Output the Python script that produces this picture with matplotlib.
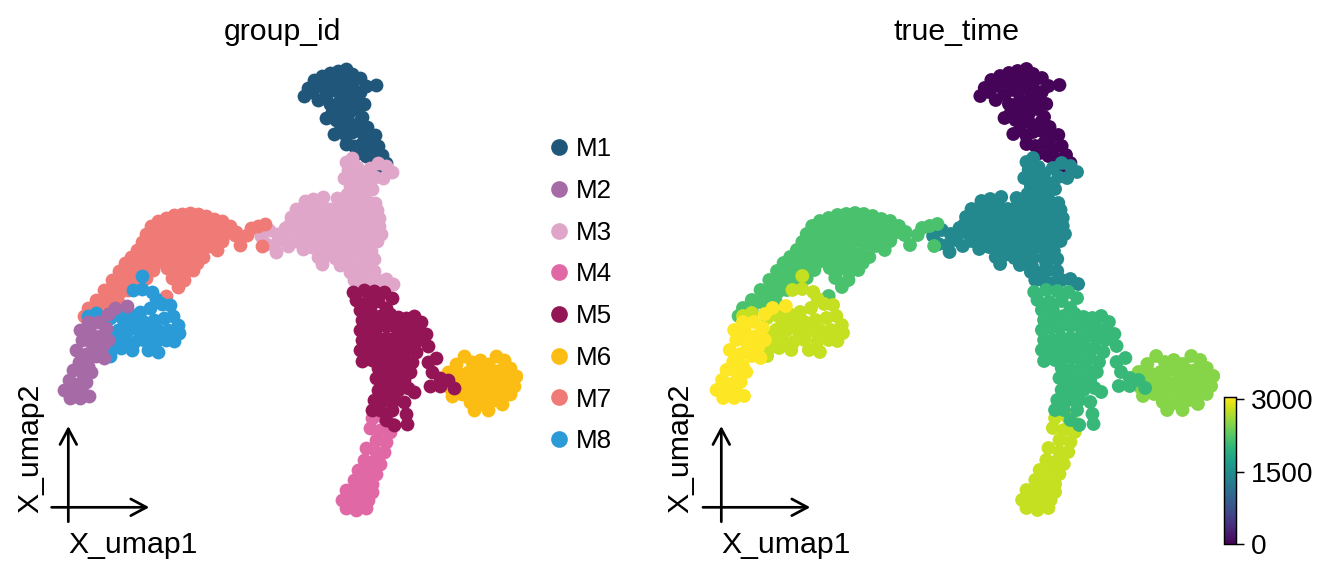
import numpy as np
import matplotlib.pyplot as plt
from matplotlib.lines import Line2D

plt.rcParams['font.family'] = ['Liberation Sans', 'DejaVu Sans']

# umap coordinates per group
M1 = [(30.8,-8.8),(30.4,-9.6),(31.4,-8.0),(32.2,-7.6),(33.0,-7.3),(33.8,-7.1),(34.6,-6.9),(35.2,-7.4),(36.0,-7.8),(36.6,-8.6),(37.6,-8.5),
      (31.2,-9.2),(32.0,-8.6),(32.8,-8.2),(33.6,-7.9),(34.4,-7.8),(35.2,-8.3),(36.0,-9.2),
      (31.8,-10.0),(32.6,-9.5),(33.4,-9.0),(34.2,-8.8),(35.0,-9.3),(35.7,-9.9),
      (33.0,-10.4),(34.0,-10.0),(34.8,-10.4),(36.4,-10.4),
      (33.2,-11.2),(34.0,-11.0),(34.8,-11.4),(35.6,-10.9),(36.2,-11.7),(32.6,-11.8),
      (33.6,-12.0),(34.4,-12.2),(35.2,-12.5),(36.0,-12.1),(36.7,-12.7),
      (34.0,-13.0),(33.4,-13.4),(34.6,-13.6),(35.2,-13.2),(36.0,-13.1),(36.8,-13.8),(37.5,-13.5),
      (34.6,-14.4),(35.4,-14.6),(36.2,-14.3),(37.0,-14.9),(37.8,-14.6),
      (35.8,-15.3),(36.6,-15.6),(37.4,-15.9),(38.2,-15.5),(38.6,-16.3),(38.0,-16.6)]

M2 = [(11.5,-30.8),(12.7,-30.6),(10.8,-31.4),
      (8.8,-32.2),(9.8,-32.2),(10.6,-32.8),(8.0,-33.0),(9.0,-33.2),(10.0,-33.6),(10.8,-34.0),
      (8.2,-34.0),(9.2,-34.4),(10.2,-34.7),(7.6,-35.0),(8.6,-35.4),(9.6,-35.6),(10.4,-35.8),
      (7.9,-36.2),(8.8,-36.6),(7.3,-37.0),(8.3,-37.4),(9.1,-37.2),(6.9,-38.0),(7.7,-38.4),(8.6,-38.2),
      (6.4,-39.0),(7.2,-39.2),(8.2,-39.2),(7.0,-39.8),(8.0,-39.8),(8.9,-39.6)]

M3 = [(34.6,-16.2),(35.2,-15.8),(34.8,-17.0),(35.7,-16.7),(34.4,-17.8),(35.3,-17.8),(36.2,-17.4),(37.0,-16.8),
      (37.8,-16.3),(38.6,-16.6),(39.2,-17.2),(37.5,-17.7),(38.3,-17.8),(35.0,-18.6),(35.8,-18.6),(36.6,-18.3),
      (37.2,-18.9),(34.7,-19.4),(35.6,-19.4),(36.4,-19.5),
      (30.5,-20.1),(31.3,-19.9),(32.3,-19.7),(33.7,-19.8),(34.7,-20.0),(35.7,-19.9),(36.7,-20.1),(37.5,-20.3),
      (29.6,-20.9),(30.4,-20.7),(31.2,-20.8),(32.0,-20.6),(32.9,-20.9),(33.7,-20.7),(34.5,-20.8),(35.3,-20.7),
      (36.1,-20.9),(36.9,-20.8),(37.7,-21.0),
      (29.1,-21.7),(29.9,-21.5),(30.8,-21.7),(31.6,-21.5),(32.4,-21.7),(33.2,-21.5),(34.0,-21.7),(34.8,-21.5),
      (35.6,-21.7),(36.4,-21.5),(37.2,-21.7),(37.9,-21.8),
      (28.9,-22.5),(29.7,-22.3),(30.6,-22.5),(31.4,-22.3),(32.2,-22.5),(33.0,-22.3),(33.8,-22.5),(34.6,-22.3),
      (35.4,-22.5),(36.2,-22.3),(37.0,-22.5),(37.9,-22.6),
      (29.2,-23.3),(30.0,-23.1),(30.8,-23.3),(31.6,-23.1),(32.4,-23.3),(33.2,-23.1),(34.0,-23.3),(34.8,-23.1),
      (35.6,-23.3),(36.4,-23.1),(37.2,-23.3),(38.1,-23.4),
      (29.6,-24.1),(30.4,-23.9),(31.2,-24.1),(32.0,-23.9),(32.8,-24.1),(33.6,-23.9),(34.4,-24.1),(35.2,-23.9),
      (36.0,-24.1),(36.8,-23.9),(37.7,-24.1),
      (30.3,-24.9),(31.2,-24.7),(32.0,-24.9),(32.8,-24.7),(33.6,-24.9),(34.4,-24.7),(35.2,-24.9),(36.1,-24.8),
      (37.1,-25.1),
      (31.8,-25.7),(32.6,-25.5),(33.5,-25.8),(34.4,-25.6),(35.2,-25.8),(36.2,-25.8),(37.4,-25.9),
      (32.2,-26.4),(34.0,-26.5),(35.1,-26.6),(36.4,-26.4),
      (26.1,-23.6),(26.9,-23.0),(27.7,-23.4),(28.5,-22.8),(26.6,-24.4),(27.4,-24.5),(28.2,-24.0),(27.6,-25.2),
      (28.8,-24.6),
      (35.0,-27.2),(35.8,-27.3),(36.6,-27.0),(37.4,-27.1),(35.4,-28.0),(36.2,-28.1),(37.0,-28.3),(37.8,-28.0),
      (38.6,-27.9),(39.3,-28.4)]

M4 = [(37.2,-41.8),(38.4,-41.8),(39.2,-42.4),(37.0,-42.8),(38.0,-43.0),(39.0,-43.2),(37.6,-44.0),(38.6,-44.2),
      (36.6,-44.8),(37.6,-45.2),(38.4,-45.2),(36.4,-46.0),(37.2,-46.2),(38.0,-46.4),
      (35.8,-47.0),(36.8,-47.2),(37.6,-47.4),(35.4,-48.0),(36.2,-48.2),(37.2,-48.4),
      (34.6,-49.0),(35.4,-49.2),(36.4,-49.2),(37.2,-49.2),(34.2,-50.0),(35.0,-50.0),(36.0,-50.2),(36.8,-50.0),
      (34.6,-50.8),(35.6,-51.0),(36.6,-50.8)]

M5 = [(35.3,-29.2),(36.4,-29.0),(37.4,-29.1),(38.4,-29.2),(39.2,-29.8),(35.6,-30.0),(36.7,-30.2),(37.8,-30.1),
      (36.0,-31.0),(37.0,-31.0),(38.6,-30.8),
      (36.2,-32.0),(37.2,-31.8),(38.0,-31.6),(39.0,-31.4),(39.8,-31.7),(40.6,-31.8),(41.4,-31.6),(42.1,-32.2),
      (36.0,-33.0),(36.8,-32.8),(37.6,-32.8),(38.6,-32.6),(39.4,-32.6),(40.2,-32.6),(41.0,-32.8),(41.8,-33.0),
      (42.6,-33.4),
      (36.2,-34.0),(37.0,-34.0),(37.8,-33.8),(38.6,-33.8),(39.4,-33.8),(40.2,-33.6),(41.0,-33.8),(41.8,-34.0),
      (42.8,-34.6),
      (36.0,-35.0),(36.8,-35.0),(37.6,-34.8),(38.4,-34.8),(39.2,-34.8),(40.0,-34.8),(40.8,-34.8),(41.6,-35.2),
      (43.6,-35.8),
      (36.2,-36.1),(37.2,-36.0),(38.0,-35.8),(38.8,-35.8),(39.6,-36.0),(40.4,-35.8),(41.2,-36.2),(42.8,-36.2),
      (37.8,-36.8),(38.6,-37.0),(39.4,-37.0),(40.2,-37.0),(41.0,-37.2),(43.2,-37.2),(44.0,-37.8),
      (37.6,-37.8),(38.4,-38.0),(39.4,-38.0),(40.4,-38.0),(43.0,-38.6),(44.0,-38.6),(44.8,-38.0),(45.4,-38.8),
      (37.8,-39.0),(38.8,-39.0),(39.8,-39.0),(40.8,-38.8),(41.4,-39.2),
      (37.4,-40.0),(38.4,-40.0),(39.4,-40.0),(40.4,-40.2),
      (37.2,-41.0),(38.0,-41.0),(39.2,-41.0),(40.6,-41.4),
      (38.6,-42.0),(39.4,-42.5),(40.7,-42.4)]

M6 = [(44.8,-37.2),(45.6,-36.4),(46.4,-35.6),(47.2,-36.2),(48.0,-36.0),(48.8,-36.4),(49.6,-35.6),(50.4,-36.0),
      (51.0,-36.8),(51.6,-37.6),
      (44.4,-38.0),(45.2,-37.6),(46.0,-37.4),(46.8,-37.2),(47.6,-37.0),(48.4,-37.2),(49.2,-37.0),(50.0,-37.0),
      (50.8,-37.6),
      (45.0,-38.8),(45.8,-38.4),(46.6,-38.2),(47.4,-38.2),(48.2,-38.2),(49.0,-38.0),(49.8,-38.0),(50.6,-38.4),
      (51.4,-38.6),
      (45.2,-39.6),(46.2,-39.4),(47.0,-39.2),(47.8,-39.2),(48.6,-39.2),(49.4,-39.0),(50.2,-39.2),(51.0,-39.4),
      (47.0,-40.2),(47.8,-40.4),(48.6,-40.2),(49.4,-40.0),(50.2,-40.4),
      (47.4,-41.0),(48.8,-41.0)]

M7 = [(24.0,-24.5),(24.7,-23.5),(25.1,-22.8),(25.8,-22.6),(26.5,-22.4),(26.2,-24.6),(23.5,-23.5),
      (15.1,-22.6),(15.8,-22.1),(16.6,-21.8),(17.4,-21.5),(18.2,-21.4),(19.0,-21.3),(19.8,-21.4),(20.6,-21.6),
      (21.4,-21.9),(22.2,-22.1),(23.0,-22.6),(23.6,-23.2),
      (14.6,-23.4),(15.4,-23.0),(16.2,-22.8),(17.0,-22.5),(17.8,-22.4),(18.6,-22.3),(19.4,-22.4),(20.2,-22.3),
      (21.0,-22.6),(21.8,-22.8),(22.6,-23.3),
      (14.2,-24.2),(15.0,-24.0),(15.8,-23.8),(16.6,-23.6),(17.4,-23.3),(18.2,-23.2),(19.0,-23.1),(19.8,-23.3),
      (20.6,-23.4),(21.4,-23.7),(22.2,-24.1),
      (13.7,-25.0),(14.5,-24.8),(15.3,-24.6),(16.1,-24.4),(16.9,-24.2),(17.7,-24.1),(18.5,-24.2),(19.3,-24.1),
      (20.1,-24.4),(20.9,-24.6),(21.7,-25.0),
      (13.1,-25.7),(13.9,-25.6),(14.7,-25.6),(15.5,-25.4),(16.3,-25.2),(17.1,-25.0),(17.9,-25.0),(18.7,-25.2),
      (19.5,-25.4),(20.3,-25.7),
      (12.5,-26.3),(13.3,-26.4),(14.1,-26.4),(14.9,-26.2),(15.7,-26.2),(16.5,-26.0),(17.3,-26.0),(18.1,-26.2),
      (18.9,-26.2),(19.7,-26.3),
      (11.9,-27.1),(12.7,-27.2),(13.5,-27.2),(14.3,-27.0),(15.3,-27.0),(16.7,-26.8),(17.5,-27.0),(18.5,-27.2),
      (19.3,-27.0),
      (11.2,-28.0),(12.0,-28.2),(12.8,-28.2),(13.6,-28.0),(14.6,-27.8),(17.2,-27.8),(18.4,-28.0),
      (10.4,-29.0),(11.2,-29.2),(12.0,-29.2),(12.8,-29.0),(17.8,-28.7),(16.6,-29.6),
      (9.6,-30.0),(10.4,-30.2),(11.4,-30.0),(10.8,-30.4),(11.8,-30.2),
      (8.8,-30.8),(9.6,-31.0),
      (8.4,-31.6)]

M8 = [(14.2,-27.6),(13.3,-29.0),(14.2,-28.9),(15.2,-29.2),(15.6,-29.9),
      (16.2,-30.4),(17.0,-30.5),(15.0,-30.8),(14.0,-31.2),(13.0,-31.4),(12.0,-31.6),(11.0,-31.8),(9.6,-31.3),
      (8.8,-31.6),
      (12.4,-32.2),(13.4,-32.2),(14.4,-32.2),(15.4,-32.0),(16.4,-31.8),(17.3,-31.6),(17.8,-32.5),
      (11.8,-33.0),(12.8,-33.0),(13.8,-33.0),(14.8,-33.1),(15.8,-33.0),(16.8,-33.0),(17.9,-33.3),(10.8,-33.6),
      (11.4,-34.2),(12.4,-34.0),(13.4,-34.2),(14.4,-34.0),(15.6,-34.1),(16.6,-34.0),(17.4,-34.1),
      (11.1,-35.0),(12.1,-34.8),(13.2,-35.0),(14.8,-35.0),(15.8,-35.2),(11.0,-35.6)]

groups = ['M1', 'M2', 'M3', 'M4', 'M5', 'M6', 'M7', 'M8']
coords = {'M1': M1, 'M2': M2, 'M3': M3, 'M4': M4, 'M5': M5, 'M6': M6, 'M7': M7, 'M8': M8}
colors = {'M1': '#1f5679', 'M2': '#a66ba6', 'M3': '#dfa6c9', 'M4': '#e068a5',
          'M5': '#941555', 'M6': '#fbbd13', 'M7': '#ef7a76', 'M8': '#2a9bd7'}
# true_time
true_time = {'M1': 30, 'M2': 3054, 'M3': 1435, 'M4': 2790, 'M5': 2050,
             'M6': 2500, 'M7': 2180, 'M8': 2790}
draw_order = ['M1', 'M3', 'M4', 'M6', 'M5', 'M7', 'M8', 'M2']

W, H = 1335, 578
fig = plt.figure(figsize=(W / 150, H / 150), dpi=150)

def px_box(x0, y0, x1, y1):
    return [x0 / W, 1 - y1 / H, (x1 - x0) / W, (y1 - y0) / H]

ax1 = fig.add_axes(px_box(42, 57, 522, 525))
ax2 = fig.add_axes(px_box(692.4, 57, 1219.9, 525))

for name in draw_order:
    x, y = zip(*coords[name])
    ax1.scatter(x, y, s=44, c=colors[name], linewidths=0)

# right panel, coloured by time
all_x, all_y, all_t = [], [], []
for name in draw_order:
    for (x, y) in coords[name]:
        all_x.append(x)
        all_y.append(y)
        all_t.append(true_time[name])
sc = ax2.scatter(all_x, all_y, s=44, c=all_t, cmap='viridis', vmin=0, vmax=3054, linewidths=0)

for ax, title in [(ax1, 'group_id'), (ax2, 'true_time')]:
    ax.set_xlim(4.2, 52.2)
    ax.set_ylim(-52.5, -5.7)
    ax.set_xticks([])
    ax.set_yticks([])
    ax.set_frame_on(False)
    ax.set_title(title, fontsize=14.5, pad=8)
    arrow = dict(arrowstyle='->,head_length=0.75,head_width=0.4', lw=1.3, color='black',
                 shrinkA=0, shrinkB=0)
    ax.annotate('', xy=(0.2235, 0.0378), xytext=(0.020, 0.0378), xycoords='axes fraction',
                arrowprops=arrow, annotation_clip=False)
    ax.annotate('', xy=(0.0548, 0.2115), xytext=(0.0548, 0.007), xycoords='axes fraction',
                arrowprops=arrow, annotation_clip=False)
    ax.text(0.0555, -0.0598, 'X_umap1', transform=ax.transAxes, fontsize=14.5,
            ha='left', va='baseline')
    ax.text(-0.0083, 0.0256, 'X_umap2', transform=ax.transAxes, fontsize=14.5,
            rotation=90, rotation_mode='anchor', ha='left', va='baseline')

handles = [Line2D([], [], marker='o', ls='', color=colors[g], markersize=7) for g in groups]
fig.legend(handles, groups, loc='center left', bbox_to_anchor=(552.5 / W, 1 - 295.3 / H),
           frameon=False, fontsize=12.5, handlelength=0.5, handletextpad=0.4,
           labelspacing=0.68, borderpad=0, borderaxespad=0)

cax = fig.add_axes(px_box(1224.3, 396.7, 1235.7, 544.3))
cb = fig.colorbar(sc, cax=cax, ticks=[0, 1500, 3000])
cb.outline.set_linewidth(0.7)
cax.tick_params(labelsize=13.5, length=3.7, width=0.7)

plt.savefig('out.png', dpi=150)
